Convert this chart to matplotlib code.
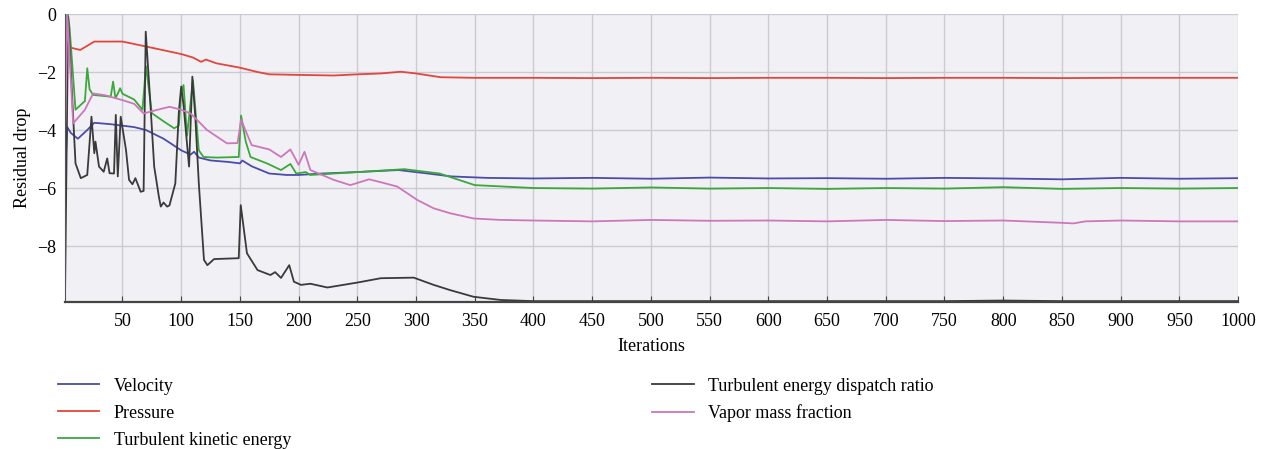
import numpy as np
import matplotlib.pyplot as plt

plt.rcParams['font.family'] = ['Liberation Serif', 'DejaVu Serif']
plt.rcParams['axes.unicode_minus'] = True

# ---- data ----
vel_x = [1, 3, 6, 12, 20, 26, 40, 50, 60, 70, 85, 100, 108, 111, 115, 125, 140, 150,
         152, 160, 175, 190, 200, 220, 250, 285, 310, 330, 360, 400, 450, 500, 550,
         600, 650, 700, 750, 800, 850, 900, 950, 1000]
vel_y = [-5.5, -3.9, -4.1, -4.3, -4.0, -3.75, -3.8, -3.85, -3.9, -4.0, -4.3, -4.7,
         -4.85, -4.75, -4.95, -5.05, -5.1, -5.15, -5.05, -5.25, -5.5, -5.55, -5.55,
         -5.5, -5.45, -5.38, -5.5, -5.6, -5.65, -5.67, -5.65, -5.68, -5.64, -5.67,
         -5.66, -5.68, -5.65, -5.67, -5.7, -5.65, -5.68, -5.66]

pre_x = [1, 5, 14, 26, 50, 70, 85, 100, 110, 117, 121, 130, 150, 165, 175, 200, 230,
         250, 270, 287, 300, 321, 350, 400, 450, 500, 550, 600, 650, 700, 750, 800,
         850, 900, 950, 1000]
pre_y = [-1.1, -1.15, -1.24, -0.95, -0.95, -1.12, -1.25, -1.38, -1.5, -1.65, -1.57,
         -1.7, -1.85, -2.0, -2.08, -2.1, -2.12, -2.08, -2.05, -1.99, -2.05, -2.18,
         -2.2, -2.2, -2.21, -2.2, -2.21, -2.2, -2.2, -2.21, -2.2, -2.2, -2.21, -2.2,
         -2.2, -2.2]

tke_x = [1, 3, 5, 10, 18, 20, 22, 25, 40, 42, 44, 46, 48, 50, 60, 67, 70, 75, 85,
         94, 98, 100, 102, 105, 110, 115, 119, 130, 149, 151, 155, 159, 173, 185,
         193, 198, 206, 210, 230, 250, 290, 320, 350, 400, 450, 500, 550, 600, 650,
         700, 750, 800, 850, 900, 950, 1000]
tke_y = [-5.0, 0.2, -0.5, -3.3, -3.0, -1.87, -2.6, -2.79, -2.85, -2.33, -2.9, -2.75,
         -2.56, -2.75, -2.95, -3.3, -1.8, -3.42, -3.7, -3.94, -3.85, -2.7, -2.45,
         -4.2, -2.28, -4.7, -4.93, -4.95, -4.93, -3.5, -4.4, -4.93, -5.15, -5.38,
         -5.17, -5.5, -5.45, -5.55, -5.5, -5.45, -5.35, -5.5, -5.9, -6.0, -6.02,
         -5.98, -6.02, -6.0, -6.03, -6.0, -6.02, -5.97, -6.03, -6.0, -6.02, -6.0]

ted_x = [1, 3.7, 10, 14.5, 20, 23.6, 26, 27, 30, 34, 37, 39, 42.8, 44.3, 46, 48.5,
         53, 55.6, 58.5, 61, 65.5, 68, 69.8, 73.4, 77, 81, 82.6, 85, 88, 90, 95, 98,
         100, 102, 106.7, 109.5, 112, 115, 119.4, 122.3, 128, 149, 150.7, 156, 165,
         176, 180, 185, 192, 196, 202, 210, 224.5, 250, 270, 298, 315, 329, 349,
         372, 400, 450, 500, 550, 600, 650, 700, 750, 800, 850, 900, 950, 1000]
ted_y = [-9.97, -0.09, -5.15, -5.66, -5.55, -3.54, -4.8, -4.4, -5.26, -5.44, -4.98,
         -5.49, -5.5, -3.48, -5.6, -3.54, -4.69, -5.72, -5.87, -5.66, -6.13, -6.1,
         -0.61, -2.85, -5.26, -6.3, -6.64, -6.5, -6.64, -6.6, -5.84, -3.37, -2.5,
         -3.14, -5.26, -2.16, -3.54, -5.84, -8.48, -8.66, -8.45, -8.42, -6.59,
         -8.25, -8.83, -9.0, -8.9, -9.1, -8.66, -9.23, -9.34, -9.3, -9.43, -9.26,
         -9.11, -9.09, -9.34, -9.52, -9.75, -9.86, -9.9, -9.9, -9.9, -9.9, -9.9,
         -9.9, -9.9, -9.9, -9.88, -9.9, -9.9, -9.9, -9.9]

vap_x = [1, 3, 8, 18, 25, 35, 50, 60, 68, 80, 90, 100, 108, 122, 139, 148, 151, 160,
         175, 185, 193, 200, 205, 210, 230, 244, 260, 270, 284, 301, 315, 329, 349,
         372, 400, 450, 500, 550, 600, 650, 700, 750, 800, 850, 860, 870, 900, 950,
         1000]
vap_y = [-4.5, 0.0, -3.77, -3.3, -2.74, -2.8, -2.97, -3.1, -3.43, -3.3, -3.2, -3.3,
         -3.43, -4.0, -4.46, -4.45, -3.65, -4.52, -4.67, -4.93, -4.67, -5.2, -4.75,
         -5.38, -5.72, -5.9, -5.7, -5.8, -5.95, -6.41, -6.7, -6.87, -7.05, -7.1,
         -7.12, -7.15, -7.1, -7.13, -7.12, -7.15, -7.1, -7.14, -7.12, -7.2, -7.22,
         -7.15, -7.12, -7.15, -7.15]

x_ticks = list(range(50, 1001, 50))
y_ticks = [0, -2, -4, -6, -8]

fig = plt.figure(figsize=(12.61, 4.49), dpi=100)
ax = fig.add_axes([0.0515, 0.3274, 0.9303, 0.6414])
ax.set_facecolor('#f1f1f5')

lw = 1.3
ax.plot(vel_x, vel_y, color='#4b4bab', lw=lw, label='Velocity')
ax.plot(pre_x, pre_y, color='#e2463c', lw=lw, label='Pressure')
ax.plot(tke_x, tke_y, color='#3ba83b', lw=lw, label='Turbulent kinetic energy')
ax.plot(ted_x, ted_y, color='#3a3a3a', lw=lw, label='Turbulent energy dispatch ratio')
ax.plot(vap_x, vap_y, color='#cc77bb', lw=lw, label='Vapor mass fraction')

ax.set_xlim(1, 1000)
ax.set_ylim(-9.93, 0)
ax.set_xticks(x_ticks)
ax.set_yticks(y_ticks)
ax.grid(True, color='#c9cad6', lw=1.0)
ax.set_axisbelow(True)

for s in ['top', 'right']:
    ax.spines[s].set_visible(False)
ax.spines['left'].set_color('#555555')
ax.spines['bottom'].set_color('#444444')
ax.spines['bottom'].set_linewidth(1.6)
ax.tick_params(axis='x', direction='in', length=4, color='#444444', labelsize=13, pad=8)
ax.tick_params(axis='y', length=0, labelsize=13, pad=6)

ax.set_xlabel('Iterations', fontsize=13, labelpad=6)
ax.set_ylabel('Residual drop', fontsize=13, labelpad=5)

fig.legend(loc='upper left', bbox_to_anchor=(0.04, 0.175), ncol=2,
           frameon=False, fontsize=13, handlelength=2.3, handletextpad=0.8,
           columnspacing=20.0, labelspacing=0.55, borderaxespad=0)

fig.savefig('out.png', dpi=100)
